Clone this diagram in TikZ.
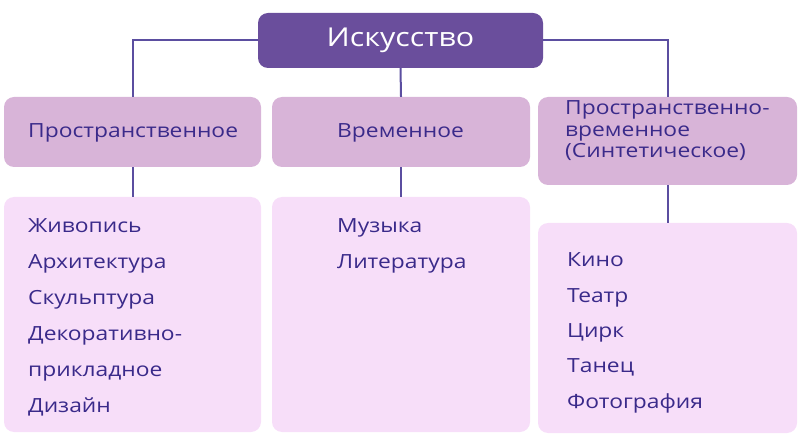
\documentclass[tikz,border=0pt]{standalone}
\usepackage{fontspec}
\setmainfont[FakeStretch=1.17]{Open Sans}
\definecolor{topc}{HTML}{6A4E9C}
\definecolor{midc}{HTML}{D8B4D8}
\definecolor{lowc}{HTML}{F7DEF9}
\definecolor{txtc}{HTML}{3A2A8A}
\definecolor{linec}{HTML}{5B4EA0}
\tikzset{
  box/.style={rounded corners=10pt, inner sep=0pt},
  topbox/.style={box, fill=topc},
  midbox/.style={box, fill=midc},
  lowbox/.style={box, fill=lowc},
  item/.style={anchor=base west, inner sep=0pt, text=txtc, font=\fontsize{19.5}{21}\selectfont},
  conn/.style={draw=linec, line width=2pt},
}
\begin{document}
\begin{tikzpicture}[x=1pt,y=-1pt]
\useasboundingbox (0,0) rectangle (800,446);
\node[topbox, minimum width=285pt, minimum height=55pt] (top) at (400.5,40.5) {};
\node[midbox, minimum width=257pt, minimum height=70pt] (m1) at (132.5,132) {};
\node[midbox, minimum width=258pt, minimum height=70pt] (m2) at (401,132) {};
\node[midbox, minimum width=259pt, minimum height=88pt] (m3) at (667.5,141) {};
\node[lowbox, minimum width=257pt, minimum height=235pt] (l1) at (132.5,314.5) {};
\node[lowbox, minimum width=258pt, minimum height=235pt] (l2) at (401,314.5) {};
\node[lowbox, minimum width=259pt, minimum height=210pt] (l3) at (667.5,328) {};
\draw[conn] (top.west) -| (m1.north);
\draw[conn] (top.east) -| (m3.north);
\draw[conn] (top.south) -- (m2.north);
\draw[conn] (m1.south) -- (l1.north);
\draw[conn] (m2.south) -- (l2.north);
\draw[conn] (m3.south) -- (l3.north);
\node[inner sep=0pt, text=white, font=\fontsize{26}{30}\selectfont] (toptxt) at (top.center) {Искусство};
\node[item] (m1t) at (28,138) {Пространственное};
\node[item] (m2t) at (337,138) {Временное};
\node[item] (m3t0) at (565,115) {Пространственно-};
\node[item] (m3t1) at (565,136.5) {временное};
\node[item] (m3t2) at (565,158) {(Синтетическое)};
\foreach \t [count=\i from 0] in {Живопись,Архитектура,Скульптура,Декоративно-,прикладное,Дизайн}
  \node[item] (l1t\i) at (28,{233+35.8*\i}) {\t};
\foreach \t [count=\i from 0] in {Музыка,Литература}
  \node[item] (l2t\i) at (337,{233+35.8*\i}) {\t};
\foreach \t [count=\i from 0] in {Кино,Театр,Цирк,Танец,Фотография}
  \node[item] (l3t\i) at (567,{267+35.3*\i}) {\t};
\end{tikzpicture}
\end{document}
